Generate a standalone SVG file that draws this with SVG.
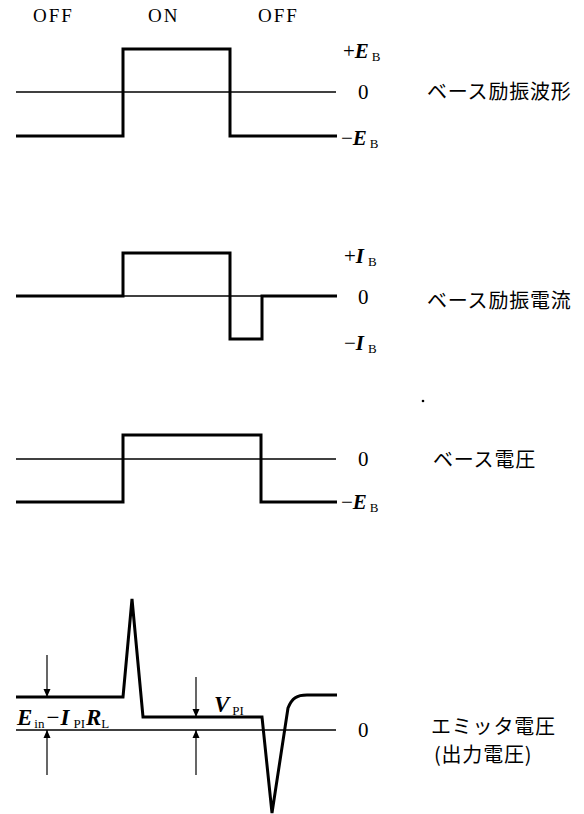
<svg xmlns="http://www.w3.org/2000/svg" width="584" height="814" viewBox="0 0 584 814">
<defs>
<style>
.thin{fill:none;stroke:#000;stroke-width:1.4}
.wave{fill:none;stroke:#000;stroke-width:3;stroke-linejoin:miter;stroke-linecap:butt}
.arr{fill:none;stroke:#000;stroke-width:1.2}
.lbl{font-family:"Liberation Serif","Times New Roman",serif;font-size:21px;fill:#000}
.big{font-size:23px}
.it{font-style:italic;font-weight:bold}
.sub{font-size:13px;font-style:normal;font-weight:normal}
.jp{font-family:"Noto Sans CJK JP","Noto Sans CJK SC",sans-serif;font-size:20px;letter-spacing:0.8px;fill:#000}
.st{font-family:"Liberation Serif","Times New Roman",serif;font-size:19px;letter-spacing:2px;fill:#000}
</style>
<marker id="ah" viewBox="0 0 8 10" refX="8" refY="5" markerWidth="8" markerHeight="10" markerUnits="userSpaceOnUse" orient="auto">
<path d="M0,1.5 L8,5 L0,8.5 Z" fill="#000"/>
</marker>
</defs>
<rect width="584" height="814" fill="#fff"/>
<g id="state-labels">
<text class="st" x="33" y="22">OFF</text>
<text class="st" x="148" y="22">ON</text>
<text class="st" x="258" y="22">OFF</text>
</g>
<g id="panel-base-drive-waveform">
<line class="thin" x1="16" y1="92" x2="336" y2="92"/>
<path class="wave" d="M16,136 H123 V49 H230 V136 H337"/>
<text class="lbl" x="343" y="58">+<tspan class="it">E</tspan><tspan class="sub" dx="3" dy="3">B</tspan></text>
<text class="lbl" x="358" y="99">0</text>
<text class="lbl" x="341" y="145">−<tspan class="it">E</tspan><tspan class="sub" dx="3" dy="3">B</tspan></text>
<text class="jp" x="427" y="99">ベース励振波形</text>
</g>
<g id="panel-base-drive-current">
<line class="thin" x1="16" y1="296" x2="336" y2="296"/>
<path class="wave" d="M16,296 H123 V253 H230 V339 H262 V296 H337"/>
<text class="lbl" x="344" y="263">+<tspan class="it">I</tspan><tspan class="sub" dx="4" dy="3">B</tspan></text>
<text class="lbl" x="358" y="304">0</text>
<text class="lbl" x="344" y="350">−<tspan class="it">I</tspan><tspan class="sub" dx="4" dy="3">B</tspan></text>
<text class="jp" x="427" y="308">ベース励振電流</text>
<circle cx="423" cy="401" r="1.3" fill="#000"/>
</g>
<g id="panel-base-voltage">
<line class="thin" x1="16" y1="459" x2="336" y2="459"/>
<path class="wave" d="M16,502 H123 V435 H261 V502 H337"/>
<text class="lbl" x="358" y="466">0</text>
<text class="lbl" x="341" y="509">−<tspan class="it">E</tspan><tspan class="sub" dx="3" dy="3">B</tspan></text>
<text class="jp" x="433" y="467">ベース電圧</text>
</g>
<g id="panel-emitter-voltage">
<line class="thin" x1="16" y1="730" x2="336" y2="730"/>
<path class="wave" d="M16,697 H123 L132,599 L143,717 H262 L272,813 L288,708 C292,698 297,695 307,695 H337"/>
<text class="lbl" x="358" y="737">0</text>
<text class="jp" x="431" y="734" font-size="19" letter-spacing="3.8">エミッタ電圧</text>
<text class="jp" x="434" y="762" font-size="18" letter-spacing="2">(出力電圧)</text>
<text class="lbl big" x="17" y="725"><tspan class="it">E</tspan><tspan class="sub" font-size="14" dx="2" dy="3">in</tspan><tspan dx="2" dy="-3">−</tspan><tspan class="it" dx="1">I</tspan><tspan class="sub" font-size="14" dx="4" dy="3">PI</tspan><tspan class="it" dx="1" dy="-3">R</tspan><tspan class="sub" font-size="14" dy="3">L</tspan></text>
<text class="lbl big" x="214" y="712"><tspan class="it">V</tspan><tspan class="sub" font-size="14" dx="3" dy="3">PI</tspan></text>
</g>
<g id="connectors">
<line class="arr" x1="47" y1="655" x2="47" y2="697" marker-end="url(#ah)"/>
<line class="arr" x1="47" y1="775" x2="47" y2="730" marker-end="url(#ah)"/>
<line class="arr" x1="196" y1="677" x2="196" y2="717" marker-end="url(#ah)"/>
<line class="arr" x1="196" y1="775" x2="196" y2="730" marker-end="url(#ah)"/>
</g>
</svg>
